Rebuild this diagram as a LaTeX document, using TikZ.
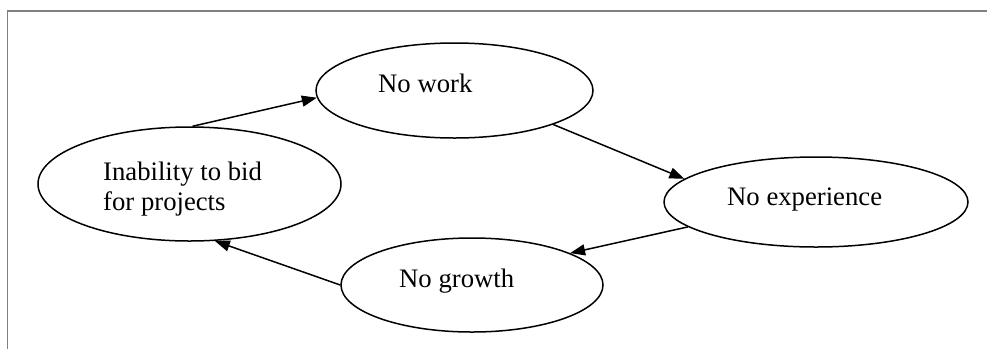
\documentclass[tikz,border=0pt]{standalone}
\usepackage{fontspec}
\setmainfont{Liberation Serif}
\usetikzlibrary{shapes.geometric, arrows.meta, positioning}

\begin{document}
\begin{tikzpicture}[
                x=1pt, y=-1pt,
                >={Triangle[length=15pt, width=11pt]},
                oval/.style={ellipse, draw=black, line width=1.5pt, inner sep=0pt},
                cycletext/.style={inner sep=0pt, align=left, font=\fontsize{26.7}{30}\selectfont},
                link/.style={->, line width=1.5pt}
            ]
                \useasboundingbox (0,0) rectangle (987,349);

                % Frame
                \draw[black!50, line width=1.6pt] (7.5,349) -- (7.5,11) -- (987,11);

                % Nodes
                \node[oval, minimum width=277pt, minimum height=95pt] (work) at (454.5,90.5) {};
                \node[oval, minimum width=303pt, minimum height=114pt] (bid) at (189.5,184) {};
                \node[oval, minimum width=304pt, minimum height=90pt] (exp) at (816,202) {};
                \node[oval, minimum width=262pt, minimum height=94pt] (growth) at (472,285) {};

                % Texts
                \node[cycletext, anchor=base west] (workText) at (378,92) {No work};
                \node[cycletext, anchor=north west] (bidText) at (103,162) {Inability to bid\\for projects};
                \node[cycletext, anchor=base west] (expText) at (727,205) {No experience};
                \node[cycletext, anchor=base west] (growthText) at (399,287) {No growth};

                % Path connections
                \draw[link] (bid.87) -- (work.183);
                \draw[link] (work.-19) -- (exp.170);
                \draw[link] (exp.191) -- (growth.18);
                \draw[link] (growth.west) -- (bid.-66);
            \end{tikzpicture}
\end{document}
